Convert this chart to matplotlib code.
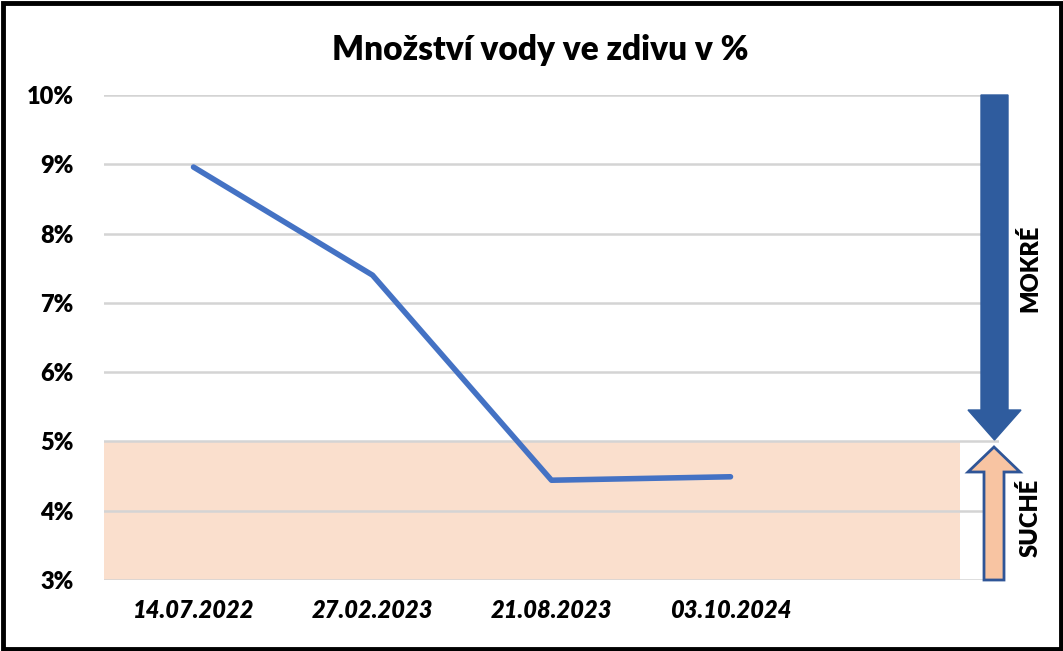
import matplotlib.pyplot as plt
from matplotlib.patches import Polygon, Rectangle

# data
dates = ["14.07.2022", "27.02.2023", "21.08.2023", "03.10.2024"]
water = [8.96, 7.40, 4.44, 4.49]
yticks = [3, 4, 5, 6, 7, 8, 9, 10]
dry_limit = 5

W, H = 1063, 651
fig = plt.figure(figsize=(W / 100, H / 100), dpi=100)
ax = fig.add_axes([104 / W, 1 - 580 / H, (999 - 104) / W, (580 - 95) / H])

font = "Lato"
wt = "heavy"

# dry band
ax.fill_between([-0.5, 4.28], 3, dry_limit, color="#FADFCD", zorder=0, lw=0)

for v in yticks:
    ax.axhline(v, color="#D4D4D4", lw=1.8, zorder=1)

x = list(range(len(dates)))
ax.plot(x, water, color="#4472C4", lw=4, solid_capstyle="round", zorder=3)

ax.set_xlim(-0.5, 4.5)
ax.set_ylim(3, 10)
ax.set_yticks(yticks)
ax.set_yticklabels([f"{v}%" for v in yticks], fontsize=17, fontweight=wt, family=font)
ax.set_xticks(x)
ax.set_xticklabels(dates, fontsize=17, fontweight=wt, fontstyle="italic", family=font)
ax.tick_params(length=0, pad=14)
ax.tick_params(axis="y", pad=22)
for s in ax.spines.values():
    s.set_visible(False)

fig.text(540 / W, 1 - 50 / H, "Množství vody ve zdivu v %", ha="center", va="center",
         fontsize=24, fontweight=wt, family=font)


def px(pts):
    return [(px_x / W, 1 - px_y / H) for px_x, px_y in pts]


# wet arrow (down)
down = [(981, 95), (1008, 95), (1008, 410), (1021, 410), (994.5, 440),
        (968, 410), (981, 410)]
fig.add_artist(Polygon(px(down), closed=True, transform=fig.transFigure,
                       facecolor="#2F5C9E", edgecolor="#2F5C9E", lw=1))
# dry arrow (up)
up = [(984, 580), (1004, 580), (1004, 472), (1020, 472), (994, 447),
      (968, 472), (984, 472)]
fig.add_artist(Polygon(px(up), closed=True, transform=fig.transFigure,
                       facecolor="#F8C4A2", edgecolor="#2F5597", lw=2))

fig.text(1030 / W, 1 - 268 / H, "MOKRÉ", rotation=90, ha="center", va="center",
         fontsize=17, fontweight=wt, family=font)
fig.text(1030 / W, 1 - 518 / H, "SUCHÉ", rotation=90, ha="center", va="center",
         fontsize=17, fontweight=wt, family=font)

fig.add_artist(Rectangle((2.5 / W, 2.5 / H), 1 - 5 / W, 1 - 5 / H, transform=fig.transFigure,
                         fill=False, edgecolor="black", lw=3.5))

fig.savefig("out.png", dpi=100)
